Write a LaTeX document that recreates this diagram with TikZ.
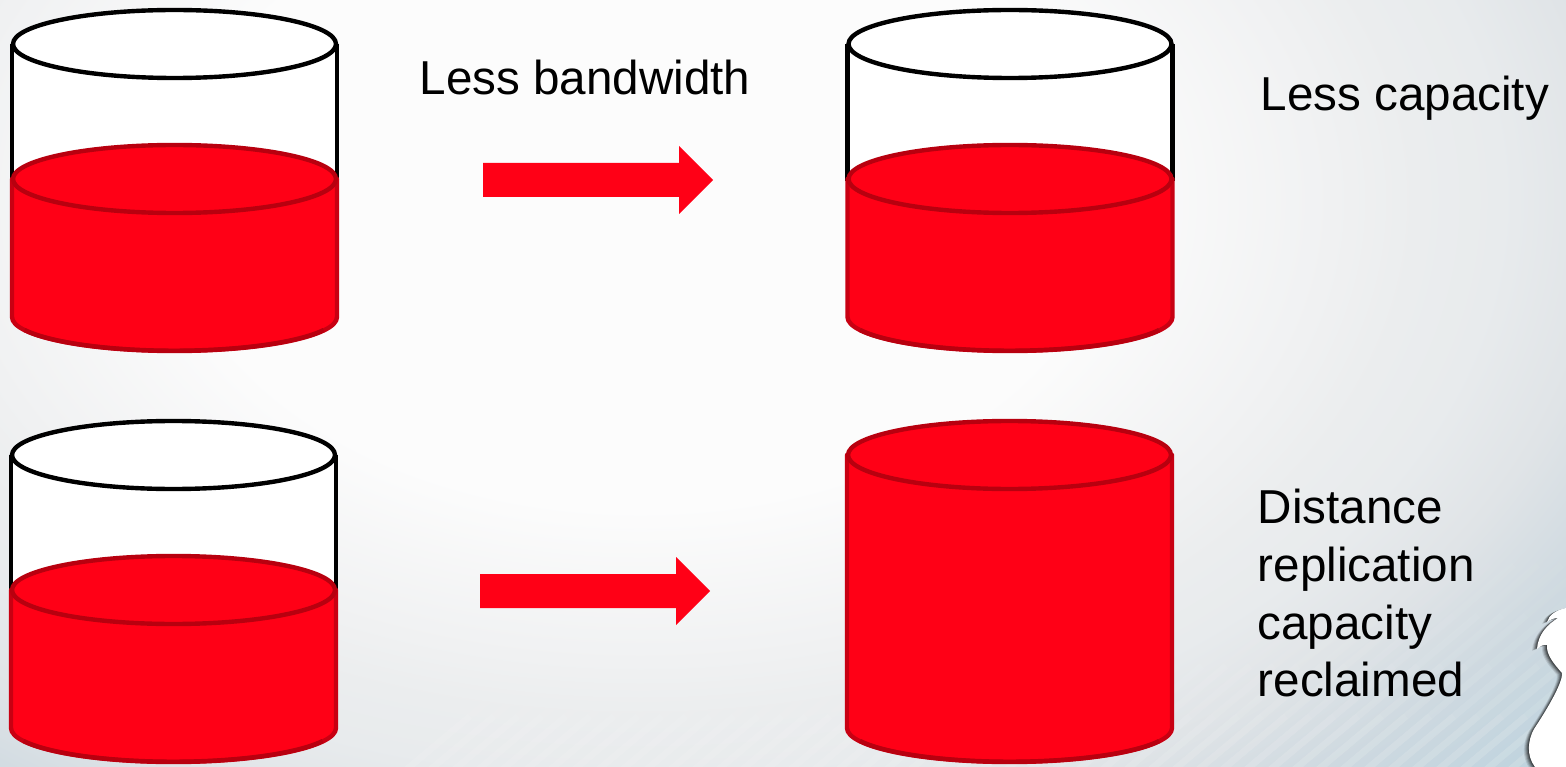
\documentclass[tikz,border=0pt]{standalone}
\usepackage{fontspec}
\setmainfont{Liberation Sans}
\definecolor{liq}{HTML}{FF0016}
\definecolor{liqedge}{HTML}{B8000F}
\definecolor{liqside}{HTML}{C80012}
\definecolor{bga}{RGB}{252,252,252}
\definecolor{bgb}{RGB}{240,241,242}
\definecolor{bgc}{RGB}{235,237,238}
\definecolor{bgd}{RGB}{232,235,237}
\definecolor{bge}{RGB}{224,228,231}
\definecolor{bgf}{RGB}{206,217,224}
\definecolor{bgg}{RGB}{190,211,222}
\pgfdeclareradialshading{bgshade}{\pgfpoint{0bp}{0bp}}{%
  color(0bp)=(bga);
  color(11bp)=(bga);
  color(16.5bp)=(bgb);
  color(18.5bp)=(bgc);
  color(20.5bp)=(bgd);
  color(23bp)=(bge);
  color(26bp)=(bgf);
  color(29.5bp)=(bgg);
  color(100bp)=(bgg)}
\tikzset{
  x=1pt,y=-1pt,
  vessel/.style={line width=4.4pt,draw=black,fill=white},
  liquidbody/.style={line width=4.4pt,draw=liqside,fill=liq,line join=round},
  liquidbase/.style={line width=4.4pt,draw=liqedge},
  liquidtop/.style={line width=4.4pt,draw=liqedge,fill=liq},
  lidtop/.style={line width=4.4pt,draw=black,fill=white},
  bigarrow/.style={fill=liq,draw=none},
  label/.style={font=\fontsize{47.6}{57.7}\selectfont,inner sep=0pt,anchor=north west,align=left,text=black}
}
% #1 centre x, #2 lid centre y, #3 liquid centre y, #4 base centre y
\newcommand{\partcyl}[4]{%
  \draw[vessel] (#1-162.5,#2) -- (#1-162.5,#3) -- (#1+162.5,#3) -- (#1+162.5,#2);
  \draw[liquidbody] (#1-162.5,#3) -- (#1-162.5,#4) arc[start angle=180,end angle=0,x radius=162.5,y radius=34] -- (#1+162.5,#3) -- cycle;
  \draw[liquidbase] (#1-150,#4+13) arc[start angle=157,end angle=23,x radius=162.5,y radius=34];
  \draw[liquidtop] (#1,#3) ellipse[x radius=161.5,y radius=34];
  \draw[lidtop] (#1,#2) ellipse[x radius=161.5,y radius=34];
}
\newcommand{\statuepath}{(1566,608) .. controls (1556,610) and (1549,615) .. (1547,622)
  .. controls (1551,619) and (1555,618) .. (1558,618)
  .. controls (1548,624) and (1538,634) .. (1537,649)
  .. controls (1540,646) and (1544,644) .. (1547,645)
  .. controls (1546,655) and (1555,665) .. (1562,673)
  .. controls (1563,682) and (1548,708) .. (1534,729)
  .. controls (1528,740) and (1526,755) .. (1535,767)
  -- (1570,767) -- (1570,608) -- cycle}
\begin{document}
\begin{tikzpicture}
\useasboundingbox (0,0) rectangle (1566,767);
\clip (0,0) rectangle (1566,767);
\shade[shading=bgshade] (-410,-500) rectangle (1690,900);
% faint diagonal streaks, tapering upward
\foreach \len/\op in {70/.06,130/.05,190/.04,250/.03}{
  \draw[white,line width=7pt,opacity=\op]
    foreach \sx in {400,424,...,1700} { (\sx,775) -- (\sx+\len,775-\len*0.84) };
}
% statue silhouette with soft shadow on its edge
\foreach \off/\op in {5/.10,4/.14,3/.18,2/.24,1/.32}{
  \fill[black,opacity=\op,xshift=-\off pt,yshift=-\off*0.4pt] \statuepath;
}
\fill[white] \statuepath;
% cylinders
\partcyl{174.5}{44}{179}{317}
\partcyl{1010}{44}{179}{317}
\partcyl{173.5}{455}{590}{728}
\draw[liquidbody] (847,455) -- (847,728) arc[start angle=180,end angle=0,x radius=162.5,y radius=34] -- (1172,455) -- cycle;
\draw[liquidbase] (860,741) arc[start angle=157,end angle=23,x radius=162.5,y radius=34];
\draw[liquidtop] (1009.5,455) ellipse[x radius=161.5,y radius=34];
% arrows
\fill[bigarrow] (483,163) -- (679,163) -- (679,146) -- (713,180) -- (679,214) -- (679,197) -- (483,197) -- cycle;
\fill[bigarrow] (480,574) -- (676,574) -- (676,557) -- (710,591) -- (676,625) -- (676,608) -- (480,608) -- cycle;
% labels
\node[label] (bw) at (419.5,60) {Less bandwidth};
\node[label] (cap) at (1260.5,76) {Less capacity};
\node[label] (dist) at (1257.5,489) {Distance\\replication\\capacity\\reclaimed};
\end{tikzpicture}
\end{document}
